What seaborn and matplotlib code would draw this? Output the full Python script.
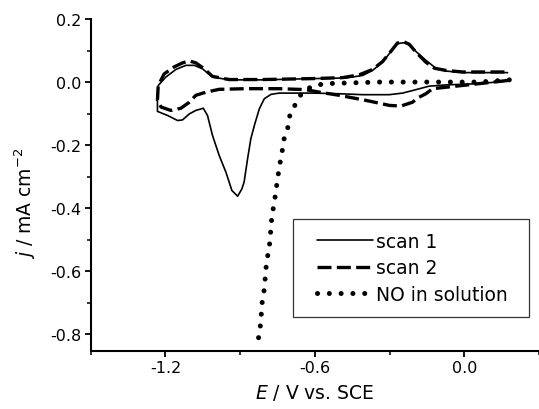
import matplotlib
matplotlib.use("Agg")
import matplotlib.pyplot as plt
import seaborn as sns
import pandas as pd
from matplotlib.ticker import MultipleLocator, FormatStrFormatter
from matplotlib.patches import Rectangle

# ---- data (E in V vs. SCE, j in mA cm^-2) ----
scan1_E = [0.181, 0.060, -0.074, -0.141, -0.208, -0.248, -0.301, -0.408, -0.502, -0.609,
           -0.743, -0.776, -0.803, -0.823, -0.843, -0.857, -0.870, -0.884, -0.893, -0.910,
           -0.933, -0.957, -0.984, -1.011, -1.031, -1.048, -1.078, -1.104, -1.131, -1.151,
           -1.191, -1.232, -1.232, -1.229, -1.198, -1.158, -1.118, -1.084, -1.051, -1.011,
           -0.944, -0.810, -0.609, -0.475, -0.408, -0.368, -0.328, -0.294, -0.268, -0.241,
           -0.221, -0.194, -0.154, -0.114, -0.074, -0.007, 0.174]
scan1_j = [0.004, -0.005, -0.009, -0.013, -0.027, -0.035, -0.040, -0.040, -0.037, -0.035,
           -0.035, -0.039, -0.053, -0.085, -0.138, -0.180, -0.243, -0.317, -0.339, -0.362,
           -0.344, -0.286, -0.233, -0.169, -0.106, -0.083, -0.090, -0.101, -0.120, -0.122,
           -0.106, -0.093, -0.042, -0.011, 0.016, 0.040, 0.053, 0.053, 0.042, 0.016,
           0.007, 0.007, 0.011, 0.013, 0.021, 0.037, 0.063, 0.097, 0.122, 0.125,
           0.118, 0.097, 0.069, 0.044, 0.035, 0.030, 0.030]

scan2_E = [0.174, 0.060, -0.127, -0.154, -0.181, -0.208, -0.254, -0.301, -0.341, -0.408,
           -0.502, -0.582, -0.636, -0.743, -0.877, -0.984, -1.037, -1.078, -1.104, -1.138,
           -1.178, -1.218, -1.232, -1.229, -1.205, -1.165, -1.131, -1.104, -1.078, -1.044,
           -1.011, -0.944, -0.810, -0.609, -0.489, -0.422, -0.368, -0.328, -0.294, -0.268,
           -0.241, -0.221, -0.194, -0.154, -0.120, -0.074, -0.007, 0.167]
scan2_j = [0.005, -0.005, -0.021, -0.037, -0.048, -0.064, -0.076, -0.074, -0.067, -0.056,
           -0.042, -0.032, -0.024, -0.021, -0.021, -0.023, -0.032, -0.042, -0.064, -0.083,
           -0.090, -0.079, -0.058, -0.011, 0.026, 0.048, 0.061, 0.067, 0.061, 0.042,
           0.018, 0.008, 0.008, 0.011, 0.014, 0.023, 0.040, 0.065, 0.098, 0.124,
           0.127, 0.120, 0.095, 0.063, 0.044, 0.037, 0.032, 0.032]

no_E = [0.181, 0.060, -0.074, -0.208, -0.342, -0.475, -0.556, -0.609, -0.652, -0.679,
        -0.700, -0.708, -0.723, -0.730, -0.739, -0.746, -0.752, -0.759, -0.766, -0.773,
        -0.781, -0.788, -0.795, -0.803, -0.811, -0.818, -0.825, -0.832]
no_j = [0.007, 0.000, 0.000, 0.000, 0.000, -0.003, -0.005, -0.012, -0.034, -0.072,
        -0.104, -0.143, -0.178, -0.214, -0.254, -0.288, -0.321, -0.362, -0.396, -0.430,
        -0.510, -0.545, -0.581, -0.657, -0.694, -0.769, -0.805, -0.846]

labels = ["scan 1", "scan 2", "NO in solution"]
x_ticks = [-1.2, -0.6, 0.0]
y_ticks = [-0.8, -0.6, -0.4, -0.2, 0.0, 0.2]

sns.set_style("ticks")
plt.rcParams["font.family"] = ["DejaVu Sans"]
plt.rcParams["axes.unicode_minus"] = False
plt.rcParams["mathtext.fontset"] = "dejavusans"
plt.rcParams["text.color"] = "black"
plt.rcParams["axes.labelcolor"] = "black"

W, H = 539, 410
fig = plt.figure(figsize=(W / 100, H / 100), dpi=100)
ax = fig.add_axes([0.1683, 0.1422, 0.8316, 0.809])

d1 = pd.DataFrame({"E": scan1_E, "j": scan1_j})
d2 = pd.DataFrame({"E": scan2_E, "j": scan2_j})
d3 = pd.DataFrame({"E": no_E, "j": no_j})

sns.lineplot(data=d1, x="E", y="j", ax=ax, sort=False, estimator=None, color="black",
             lw=1.2, label=labels[0])
sns.lineplot(data=d2, x="E", y="j", ax=ax, sort=False, estimator=None, color="black",
             lw=2.4, linestyle=(0, (4.2, 1.6)), label=labels[1])
sns.lineplot(data=d3, x="E", y="j", ax=ax, sort=False, estimator=None, color="black",
             lw=3.6, linestyle=(0, (0.01, 2.35)), dash_capstyle="round", label=labels[2])

ax.set_xlim(-1.5, 0.3)
ax.set_ylim(-0.852, 0.2)
ax.set_xticks(x_ticks)
ax.set_yticks(y_ticks)
ax.xaxis.set_minor_locator(MultipleLocator(0.3))
ax.yaxis.set_minor_locator(MultipleLocator(0.1))
ax.xaxis.set_major_formatter(FormatStrFormatter("%.1f"))
ax.yaxis.set_major_formatter(FormatStrFormatter("%.1f"))

for s in ["top", "right"]:
    ax.spines[s].set_visible(False)
for s in ["left", "bottom"]:
    ax.spines[s].set_linewidth(1.5)
    ax.spines[s].set_color("black")

ax.tick_params(which="major", direction="out", length=4.5, width=1.3, labelsize=11.5,
               colors="black", pad=2)
ax.tick_params(which="minor", direction="out", length=3, width=1.3)

ax.set_xlabel("$\\mathit{E}$ / V vs. SCE", fontsize=13.5, labelpad=5)
ax.set_ylabel("$\\mathit{j}$ / mA cm$^{-2}$", fontsize=13.5, labelpad=9, y=0.448)

leg = ax.legend(loc="upper left", bbox_to_anchor=(317 / W, 1 - 233 / H),
                bbox_transform=fig.transFigure, borderaxespad=0, frameon=False,
                fontsize=13.5, handlelength=3.0, handletextpad=0.16,
                labelspacing=0.4, borderpad=0)
for t in leg.get_texts():
    t.set_color("black")
fig.add_artist(Rectangle((292.7 / W, 1 - 318 / H), (529 - 292.7) / W, 98 / H,
                         transform=fig.transFigure, fill=False, ec="#333333", lw=0.9))

fig.savefig("out.png", dpi=100)
